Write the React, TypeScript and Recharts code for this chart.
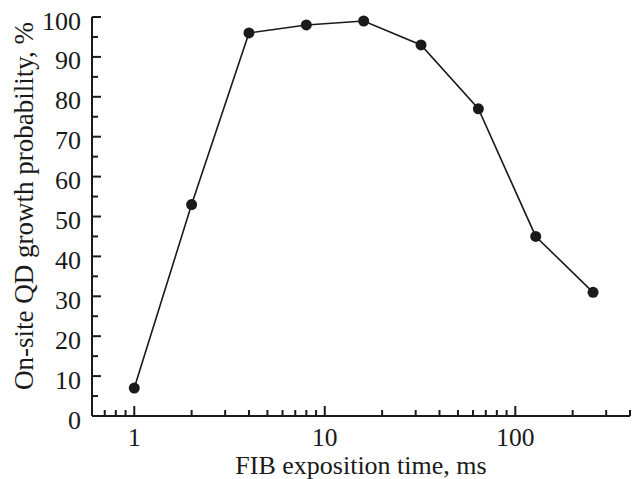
import { LineChart, Line, XAxis, YAxis, Label } from 'recharts';

const exposureMs = [1, 2, 4, 8, 16, 32, 64, 128, 256];
const probability = [7, 53, 96, 98, 99, 93, 77, 45, 31];

const xMajorTicks = [1, 10, 100];
const xMinorTicks = [0.6, 0.7, 0.8, 0.9, 2, 3, 4, 5, 6, 7, 8, 9, 20, 30, 40, 50, 60, 70, 80, 90, 200, 300, 400];
const yTicks = [0, 5, 10, 15, 20, 25, 30, 35, 40, 45, 50, 55, 60, 65, 70, 75, 80, 85, 90, 95, 100];

const data = exposureMs.map((t, i) => ({ t, p: probability[i] }));
const xTicks = [...xMajorTicks, ...xMinorTicks].sort((a, b) => a - b);

const INK = '#1a1a1a';
const FONT = '"Liberation Serif", "Times New Roman", serif';

const XTick = (props: any) => {
  const { x, y, payload } = props;
  const major = xMajorTicks.includes(payload.value);
  return (
    <g>
      <line x1={x} x2={x} y1={y} y2={y - (major ? 10 : 6)} stroke={INK} strokeWidth={2} />
      {major && (
        <text x={x} y={y + 30} textAnchor="middle" fontFamily={FONT} fontSize={25.5} fill={INK}>
          {payload.value}
        </text>
      )}
    </g>
  );
};

const YTick = (props: any) => {
  const { x, y, payload } = props;
  const major = payload.value % 10 === 0;
  return (
    <g>
      <line x1={x} x2={x + (major ? 9 : 6)} y1={y} y2={y} stroke={INK} strokeWidth={2} />
      {major && (
        <text x={x - 11} y={y + 12.5} textAnchor="end" fontFamily={FONT} fontSize={26} fill={INK}>
          {payload.value}
        </text>
      )}
    </g>
  );
};

export default function App() {
  const axisLine = { stroke: INK, strokeWidth: 2 };
  return (
    <div>
      <style>{'body{margin:0;background:#fff}'}</style>
      <LineChart width={633} height={479} data={data} margin={{ top: 17, right: 3, bottom: 0, left: 0 }}>
        <XAxis
          dataKey="t"
          type="number"
          scale="log"
          domain={[0.6, 400]}
          allowDataOverflow
          ticks={xTicks}
          interval={0}
          tickSize={0}
          tickMargin={0}
          tickLine={false}
          tick={<XTick />}
          axisLine={axisLine}
          height={63}
        >
          <Label
            content={(p: any) => (
              <text
                x={p.viewBox.x + p.viewBox.width / 2}
                y={p.viewBox.y + 58}
                textAnchor="middle"
                fontFamily={FONT}
                fontSize={26}
                fill={INK}
              >
                FIB exposition time, ms
              </text>
            )}
          />
        </XAxis>
        <XAxis
          xAxisId="top"
          orientation="top"
          type="number"
          scale="log"
          domain={[0.6, 400]}
          allowDataOverflow
          height={0}
          tick={false}
          tickLine={false}
          axisLine={axisLine}
        />
        <YAxis
          type="number"
          domain={[0, 100]}
          ticks={yTicks}
          interval={0}
          tickSize={0}
          tickMargin={0}
          tickLine={false}
          tick={<YTick />}
          axisLine={axisLine}
          width={92}
        >
          <Label
            content={() => (
              <text
                x={33}
                y={206}
                transform="rotate(-90 33 206)"
                textAnchor="middle"
                fontFamily={FONT}
                fontSize={27}
                fill={INK}
              >
                On-site QD growth probability, %
              </text>
            )}
          />
        </YAxis>
        <YAxis
          yAxisId="right"
          orientation="right"
          type="number"
          domain={[0, 100]}
          width={0}
          tick={false}
          tickLine={false}
          axisLine={axisLine}
        />
        <Line
          dataKey="p"
          stroke={INK}
          strokeWidth={1.6}
          dot={{ r: 5.5, fill: INK, stroke: 'none' }}
          activeDot={false}
          isAnimationActive={false}
        />
      </LineChart>
    </div>
  );
}
